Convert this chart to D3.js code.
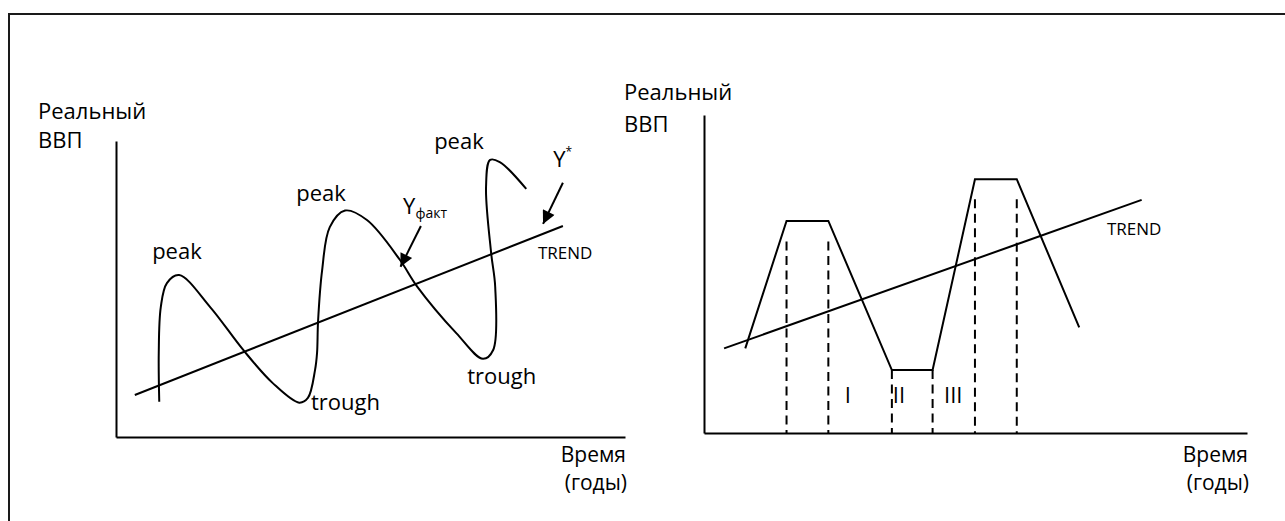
<!DOCTYPE html>
<html>
<head>
<meta charset="utf-8">
<script src="https://cdn.jsdelivr.net/npm/d3@7"></script>
<style>
  body { margin: 0; background: #fff; }
  text { font-family: "Open Sans", sans-serif; fill: #000; }
</style>
</head>
<body>
<div id="chart"></div>
<script>
// Left panel: actual GDP wave around the trend (time 0-100, GDP 0-100)
var waveTime = [8.5, 8.4, 8.8, 10.0, 12.4, 18.5, 25.0, 30.8, 36.0, 37.7, 39.1, 39.5, 39.7, 40.5, 42.0, 45.0, 49.3, 55.8, 59.1, 66.9, 72.1, 74.1, 74.5, 73.7, 72.7, 73.5, 75.4, 80.6];
var waveGdp  = [11.9, 28.4, 43.9, 52.0, 54.7, 43.9, 29.4, 18.2, 11.6, 13.2, 22.6, 28.4, 39.2, 56.4, 70.9, 76.5, 73.3, 59.8, 51.0, 35.0, 26.4, 29.4, 50.7, 62.2, 84.5, 93.6, 92.9, 83.8];
var leftTrendTime = [3.7, 87.8];
var leftTrendGdp  = [14.2, 71.3];

// Right panel: stylised cycle with plateaus
var stepTime = [7.6, 15.2, 22.9, 34.6, 42.1, 49.9, 57.6, 69.1];
var stepGdp  = [26.6, 66.7, 66.7, 19.8, 19.8, 79.8, 79.8, 33.2];
var rightTrendTime = [3.7, 80.6];
var rightTrendGdp  = [26.6, 73.3];
var dashTime = [15.2, 22.9, 34.6, 42.1, 49.9, 57.6];
var dashTop  = [60.2, 60.2, 19.8, 19.8, 73.5, 73.5];
var phaseLabels = ["I", "II", "III"];
var phaseTime   = [26.5, 35.9, 45.9];
var phaseGdp    = [9.4, 9.4, 9.4];

var leftNotes = [
  {t: "peak", x: 7.1, y: 60.1},
  {t: "peak", x: 35.4, y: 79.7},
  {t: "peak", x: 62.5, y: 97.3},
  {t: "trough", x: 38.3, y: 9.1},
  {t: "trough", x: 69.0, y: 17.9}
];

var width = 1285, height = 521;

var svg = d3.select("#chart").append("svg")
  .attr("width", width)
  .attr("height", height);

// outer frame (only top and left edges fall inside the picture)
svg.append("rect")
  .attr("x", 9).attr("y", 14)
  .attr("width", 1400).attr("height", 600)
  .attr("fill", "none")
  .attr("stroke", "#1a1a1a")
  .attr("stroke-width", 2);

svg.append("defs").append("marker")
  .attr("id", "arrow")
  .attr("viewBox", "0 0 10 10")
  .attr("refX", 10).attr("refY", 5)
  .attr("markerUnits", "userSpaceOnUse")
  .attr("markerWidth", 17).attr("markerHeight", 13)
  .attr("orient", "auto")
  .append("path")
  .attr("d", "M0,0 L10,5 L0,10 Z")
  .attr("fill", "#000");

// scales
var xL = d3.scaleLinear().domain([0, 100]).range([116, 625]);
var yL = d3.scaleLinear().domain([0, 100]).range([437, 141]);
var xR = d3.scaleLinear().domain([0, 100]).range([704, 1247]);
var yR = d3.scaleLinear().domain([0, 100]).range([433, 115]);

function drawAxes(x, y) {
  var g = svg.append("g");
  g.append("g")
    .attr("transform", `translate(0, ${y.range()[0]})`)
    .call(d3.axisBottom(x).ticks(0).tickSizeOuter(0));
  g.append("g")
    .attr("transform", `translate(${x.range()[0]}, 0)`)
    .call(d3.axisLeft(y).ticks(0).tickSizeOuter(0));
  g.selectAll(".domain").attr("stroke", "#000").attr("stroke-width", 2);
}
drawAxes(xL, yL);
drawAxes(xR, yR);

var line = function(x, y, curve) {
  return d3.line().x(d => x(d[0])).y(d => y(d[1])).curve(curve || d3.curveLinear);
};

// left panel
var wave = d3.zip(waveTime, waveGdp);
svg.append("path")
  .attr("d", line(xL, yL, d3.curveCatmullRom.alpha(0.5))(wave))
  .attr("fill", "none").attr("stroke", "#000").attr("stroke-width", 2);

svg.append("path")
  .attr("d", line(xL, yL)(d3.zip(leftTrendTime, leftTrendGdp)))
  .attr("fill", "none").attr("stroke", "#000").attr("stroke-width", 2);

svg.selectAll(".note")
  .data(leftNotes)
  .enter()
  .append("text")
  .attr("x", d => xL(d.x))
  .attr("y", d => yL(d.y))
  .style("font-size", "22px")
  .text(d => d.t);

svg.append("text")
  .attr("x", xL(82.9)).attr("y", yL(60.1))
  .style("font-size", "17px")
  .text("TREND");

// Y fact label + arrow
var yf = svg.append("text")
  .attr("x", xL(56.4)).attr("y", yL(75.3))
  .style("font-size", "22px");
yf.append("tspan").text("Y");
yf.append("tspan").attr("dy", 4).style("font-size", "14px").text("факт");

svg.append("line")
  .attr("x1", xL(59.9)).attr("y1", yL(71.3))
  .attr("x2", xL(55.9)).attr("y2", yL(57.5))
  .attr("stroke", "#000").attr("stroke-width", 2)
  .attr("marker-end", "url(#arrow)");

// Y* label + arrow
var ys = svg.append("text")
  .attr("x", xL(85.9)).attr("y", yL(91.2))
  .style("font-size", "22px");
ys.append("tspan").text("Y");
ys.append("tspan").attr("dy", -11).style("font-size", "12px").text("*");

svg.append("line")
  .attr("x1", xL(87.8)).attr("y1", yL(85.9))
  .attr("x2", xL(83.9)).attr("y2", yL(72.0))
  .attr("stroke", "#000").attr("stroke-width", 2)
  .attr("marker-end", "url(#arrow)");

// right panel
svg.selectAll(".dash")
  .data(d3.zip(dashTime, dashTop))
  .enter()
  .append("line")
  .attr("x1", d => xR(d[0])).attr("x2", d => xR(d[0]))
  .attr("y1", d => yR(d[1])).attr("y2", yR(0))
  .attr("stroke", "#000").attr("stroke-width", 2)
  .attr("stroke-dasharray", "9,5.5");

svg.append("path")
  .attr("d", line(xR, yR)(d3.zip(stepTime, stepGdp)))
  .attr("fill", "none").attr("stroke", "#000").attr("stroke-width", 2)
  .attr("stroke-linejoin", "miter");

svg.append("path")
  .attr("d", line(xR, yR)(d3.zip(rightTrendTime, rightTrendGdp)))
  .attr("fill", "none").attr("stroke", "#000").attr("stroke-width", 2);

svg.append("text")
  .attr("x", xR(74.2)).attr("y", yR(62.3))
  .style("font-size", "17px")
  .text("TREND");

svg.selectAll(".phase")
  .data(phaseLabels)
  .enter()
  .append("text")
  .attr("x", (d, i) => xR(phaseTime[i]))
  .attr("y", (d, i) => yR(phaseGdp[i]))
  .attr("text-anchor", "middle")
  .style("font-size", "22px")
  .text(d => d);

// axis titles (two-line labels)
function axisTitles(x, y, dxY, dyY1, dyY2) {
  var x0 = x.range()[0], x1 = x.range()[1];
  var yTop = y.range()[1];
  var yt = svg.append("text").style("font-size", "22px");
  yt.append("tspan").attr("x", x0 - dxY).attr("y", yTop + dyY1).text("Реальный");
  yt.append("tspan").attr("x", x0 - dxY).attr("y", yTop + dyY2).text("ВВП");
  var xt = svg.append("text").attr("text-anchor", "end").style("font-size", "21px");
  xt.append("tspan").attr("x", x1 + 1).attr("y", 462).text("Время");
  xt.append("tspan").attr("x", x1 + 2).attr("y", 490).text("(годы)");
}
axisTitles(xL, yL, 78, -22, 7);
axisTitles(xR, yR, 80, -15, 17);
</script>
</body>
</html>
